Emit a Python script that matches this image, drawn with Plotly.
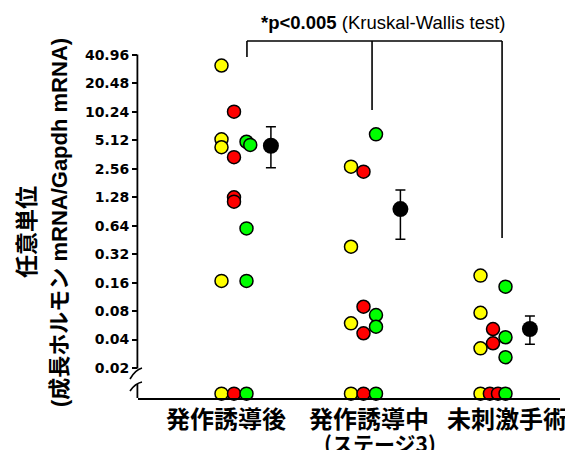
import math
import plotly.graph_objects as go

# ---------------- data ----------------
GROUPS = ["発作誘導後", "発作誘導中", "未刺激手術"]
GROUP_SUB = ["", "(ステージ3)", ""]
YELLOW = [[31.7, 5.26, 4.33, 0.167, 0], [2.70, 0.384, 0.0594, 0], [0.19, 0.0768, 0.0323, 0]]
RED = [[10.3, 3.4, 1.28, 1.15, 0], [2.39, 0.089, 0.0466, 0], [0.0517, 0.0365, 0, 0]]
GREEN = [[4.95, 4.58, 0.60, 0.167, 0], [5.93, 0.0727, 0.0547, 0], [0.145, 0.0423, 0.026, 0]]
MEAN = [4.49, 0.96, 0.0517]
ERR_HIGH = [7.15, 1.53, 0.071]
ERR_LOW = [2.63, 0.46, 0.0356]
TICK_VALS = [0.02, 0.04, 0.08, 0.16, 0.32, 0.64, 1.28, 2.56, 5.12, 10.24, 20.48, 40.96]
TICK_TEXT = ["0.02", "0.04", "0.08", "0.16", "0.32", "0.64", "1.28", "2.56", "5.12", "10.24", "20.48", "40.96"]
STAT_TEXT = "<b>*p<0.005</b> (Kruskal-Wallis test)"
Y_TITLE_1 = "任意単位"
Y_TITLE_2 = "(成長ホルモン mRNA/Gapdh mRNA)"

# ---------------- style / layout ----------------
ZERO_FLOOR = 0.0107          # where zero values are drawn (below axis break)
COL_STEP = 0.0965            # column spacing inside a group (x units)
MEAN_OFFSET = 0.285
NUDGE = {("g", 0, 1): 0.3, ("r", 2, 2): -0.25, ("r", 2, 3): 0.4}
SERIES = [("y", YELLOW, "#FFFF00", -1), ("r", RED, "#FF0000", 0), ("g", GREEN, "#00FF00", 1)]

OFF = 8                                  # page body margin
REF_W, REF_H = 573, 450
PL, PT, PR, PB = 138, 55, 560, 398       # plot area in page pixels
W, H = REF_W - OFF, REF_H - OFF
L, T = PL - OFF, PT - OFF
R, B = W - (PR - OFF), H - (PB - OFF)
PW, PH = PR - PL, PB - PT
G0, GSTEP = 234, 129.5                   # page x of group 0 centre, px per group
X_LEFT = (PL - G0) / GSTEP
X_RIGHT = (PR - G0) / GSTEP


def px(x):
    return (x - PL) / PW


def py(y):
    return (PB - y) / PH


fig = go.Figure()

for key, data, color, col in SERIES:
    xs, ys = [], []
    for g, vals in enumerate(data):
        for i, v in enumerate(vals):
            xs.append(g + (col + NUDGE.get((key, g, i), 0)) * COL_STEP)
            ys.append(v if v > 0 else ZERO_FLOOR)
    fig.add_trace(go.Scatter(
        x=xs, y=ys, mode="markers", cliponaxis=False, showlegend=False,
        marker=dict(size=13, color=color, line=dict(color="black", width=1.5)),
    ))

fig.add_trace(go.Scatter(
    x=[g + MEAN_OFFSET for g in range(len(GROUPS))], y=MEAN, mode="markers",
    cliponaxis=False, showlegend=False,
    marker=dict(size=16, color="black"),
    error_y=dict(type="data", symmetric=False,
                 array=[h - m for h, m in zip(ERR_HIGH, MEAN)],
                 arrayminus=[m - l for m, l in zip(MEAN, ERR_LOW)],
                 color="black", thickness=1.5, width=5),
))

shapes = []
line = dict(color="black", width=1.6)
# y-axis line as thin filled bars (two pieces around the break)
for top, bot in [(PT - 0.5, 368.5), (384, PB)]:
    shapes.append(dict(type="rect", xref="paper", yref="paper", x0=px(136.5), x1=px(138.3),
                       y0=py(bot), y1=py(top), fillcolor="black", line=dict(width=0), layer="above"))
shapes.append(dict(type="path", xref="paper", yref="paper",
                   path=f"M {px(130)},{py(379)} Q {px(135)},{py(370)} {px(142)},{py(368)}", line=line))
shapes.append(dict(type="path", xref="paper", yref="paper",
                   path=f"M {px(130)},{py(391)} Q {px(135)},{py(383.5)} {px(142)},{py(382)}", line=line))
# significance bracket
bx = [0.1, 1.066, 2.07]
shapes.append(dict(type="line", xref="x", yref="paper", x0=bx[0], x1=bx[2], y0=py(41), y1=py(41), line=line))
shapes.append(dict(type="line", xref="x", yref="paper", x0=bx[0], x1=bx[0], y0=py(41), y1=py(57), line=line))
shapes.append(dict(type="line", xref="x", yref="paper", x0=bx[1], x1=bx[1], y0=py(41), y1=py(110), line=line))
shapes.append(dict(type="line", xref="x", yref="paper", x0=bx[2], x1=bx[2], y0=py(41), y1=py(238), line=line))

cjk = "Noto Sans CJK JP"
ann = []
ann.append(dict(text=STAT_TEXT, xref="paper", yref="paper", x=px(383), y=py(22),
                xanchor="center", yanchor="middle", showarrow=False,
                font=dict(family="Liberation Sans", size=18.5, color="black")))
ann.append(dict(text="<b>" + Y_TITLE_1 + "</b>", xref="paper", yref="paper", x=px(25), y=py(232),
                xanchor="center", yanchor="middle", showarrow=False, textangle=-90,
                font=dict(family=cjk, size=23, color="black")))
ann.append(dict(text="<b>" + Y_TITLE_2 + "</b>", xref="paper", yref="paper", x=px(59), y=py(223),
                xanchor="center", yanchor="middle", showarrow=False, textangle=-90,
                font=dict(family="Liberation Sans, " + cjk, size=22, color="black")))
label_x = [-0.062, 1.042, 2.108]
for g, name in enumerate(GROUPS):
    ann.append(dict(text="<b>" + name + "</b>", xref="x", yref="paper", x=label_x[g], y=py(417),
                    xanchor="center", yanchor="middle", showarrow=False,
                    font=dict(family=cjk, size=24, color="black")))
    if GROUP_SUB[g]:
        ann.append(dict(text="<b>" + GROUP_SUB[g] + "</b>", xref="x", yref="paper", x=label_x[g] + 0.085,
                        y=py(443), xanchor="center", yanchor="middle", showarrow=False,
                        font=dict(family=cjk, size=21, color="black")))

fig.update_layout(
    width=W, height=H, margin=dict(l=L, r=R, t=T, b=B, autoexpand=False),
    paper_bgcolor="white", plot_bgcolor="white",
    shapes=shapes, annotations=ann,
    xaxis=dict(range=[X_LEFT, X_RIGHT], showline=True, linecolor="black",
               linewidth=1.5, showticklabels=False, ticks="", showgrid=False, zeroline=False),
    yaxis=dict(type="log", range=[math.log10(0.00963), math.log10(40.96)], tickvals=TICK_VALS,
               ticktext=TICK_TEXT, ticks="outside", ticklen=5, tickwidth=1.5, tickcolor="black",
               showline=False, showgrid=False, zeroline=False, automargin=False,
               tickfont=dict(family="DejaVu Sans", size=14, color="black", weight="bold")),
)

fig.write_html("out.html")
